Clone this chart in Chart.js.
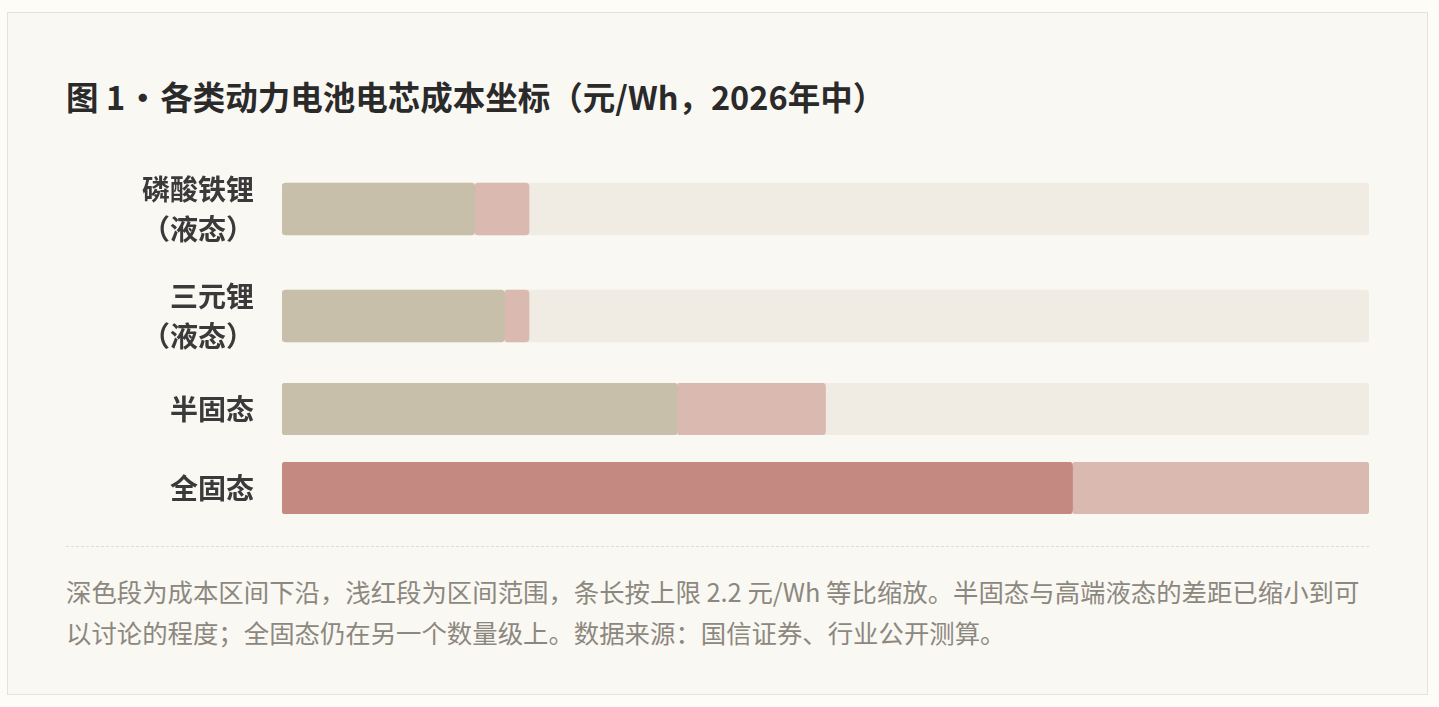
<!DOCTYPE html>
<html lang="zh-CN">
<head>
<meta charset="utf-8">
<title>各类动力电池电芯成本坐标</title>
<script src="https://cdn.jsdelivr.net/npm/chart.js@4/dist/chart.umd.min.js"></script>
<style>
    html, body {
        margin: 0;
        padding: 0;
        background: #fdfcf9;
        font-family: "Noto Sans CJK SC", "Noto Sans", sans-serif;
    }
    .card {
        position: absolute;
        left: 7px;
        top: 12px;
        width: 1421px;
        height: 683px;
        box-sizing: border-box;
        border: 1px solid #e6e2d9;
        background: #faf8f3;
        padding: 61px 58px 0 58px;
    }
    h1 {
        margin: 0;
        font-size: 32.5px;
        line-height: 44px;
        font-weight: 700;
        word-spacing: -6px;
        color: #2a2a2a;
    }
    h1 .fig { word-spacing: 0; }
    .rows {
        margin-top: 51px;
    }
    .row {
        position: relative;
        width: 1303px;
        margin-bottom: 27px;
    }
    .row.two { height: 80px; }
    .row.one { height: 52px; }
    .row:last-child { margin-bottom: 0; }
    .sep {
        margin-top: 32px;
        width: 1303px;
        border-top: 1px dashed #e2ddd3;
    }
    .note {
        margin: 24px 0 0 0;
        width: 1303px;
        font-size: 25.4px;
        line-height: 41px;
        color: #8c8880;
    }
</style>
</head>
<body>
<div class="card">
    <h1><span class="fig">图 1</span> • 各类动力电池电芯成本坐标（元/Wh，2026年中）</h1>
    <div class="rows" id="rows"></div>
    <div class="sep"></div>
    <p class="note">深色段为成本区间下沿，浅红段为区间范围，条长按上限 2.2 元/Wh 等比缩放。半固态与高端液态的差距已缩小到可以讨论的程度；全固态仍在另一个数量级上。数据来源：国信证券、行业公开测算。</p>
</div>
<script>
// 元/Wh, 2026年中
const categories = [
    ["磷酸铁锂", "（液态）"],
    ["三元锂", "（液态）"],
    ["半固态"],
    ["全固态"],
];
const costLow = [0.39, 0.45, 0.8, 1.6];
const costHigh = [0.5, 0.5, 1.1, 2.2];
const SCALE_MAX = 2.2;

const TRACK = "#f0ece3";
const RANGE = "#dab9b0";
const LOW = "#c7bfa9";
const LOW_SOLID = "#c48a81";
const lowColors = [LOW, LOW, LOW, LOW_SOLID];

const rowsEl = document.getElementById("rows");

function buildRow(i) {
    const row = document.createElement("div");
    row.className = "row " + (categories[i].length > 1 ? "two" : "one");
    const canvas = document.createElement("canvas");
    row.appendChild(canvas);
    rowsEl.appendChild(row);

    new Chart(canvas, {
        type: "bar",
        data: {
            labels: [categories[i]],
            datasets: [
                { label: "下沿", data: [[0, costLow[i]]], backgroundColor: lowColors[i], order: 0 },
                { label: "区间", data: [[costLow[i], costHigh[i]]], backgroundColor: RANGE, order: 1 },
                { label: "上限", data: [[0, SCALE_MAX]], backgroundColor: TRACK, order: 2 },
            ],
        },
        options: {
            indexAxis: "y",
            responsive: true,
            maintainAspectRatio: false,
            animation: false,
            layout: { padding: 0 },
            datasets: {
                bar: {
                    grouped: false,
                    barThickness: 52,
                    borderRadius: 4,
                    borderSkipped: false,
                    borderWidth: 0,
                },
            },
            plugins: {
                legend: { display: false },
                tooltip: { enabled: false },
            },
            scales: {
                x: { display: false, min: 0, max: SCALE_MAX },
                y: {
                    border: { display: false },
                    grid: { display: false, drawTicks: false },
                    afterFit: (scale) => {
                        // fixed label column; the label may be as tall as the row
                        scale.width = 216;
                        scale.paddingTop = 0;
                        scale.paddingBottom = 0;
                    },
                    ticks: {
                        padding: 28,
                        color: "#3a3a3a",
                        font: { family: "Noto Sans CJK SC", size: 28, weight: "bold", lineHeight: 40 / 28 },
                    },
                },
            },
        },
    });
}

categories.forEach((_, i) => buildRow(i));
</script>
</body>
</html>
